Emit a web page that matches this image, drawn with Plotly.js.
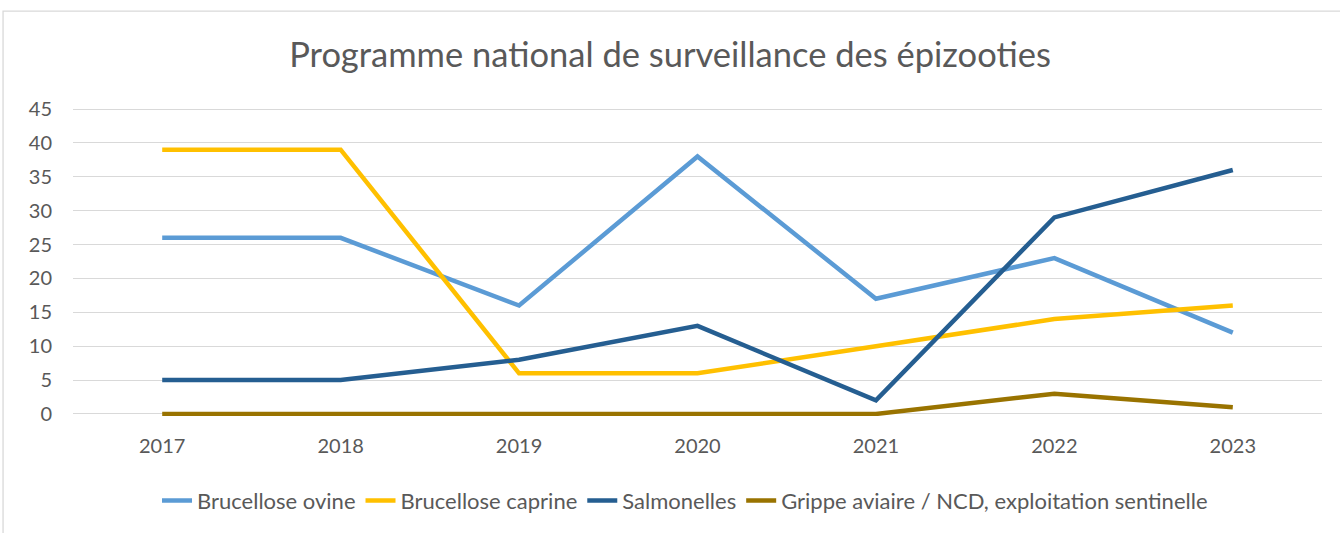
<!DOCTYPE html>
<html>
<head>
<meta charset="utf-8">
<script src="https://cdn.plot.ly/plotly-3.0.1.min.js"></script>
<style>
  body { margin: 0; background: #fff; }
  #chart { width: 1340px; height: 533px; }
</style>
</head>
<body>
<div id="chart"></div>
<script>
// years on the x axis
var years = ["2017", "2018", "2019", "2020", "2021", "2022", "2023"];

// series values
var brucelloseOvine = [26, 26, 16, 38, 17, 23, 12];
var brucelloseCaprine = [39, 39, 6, 6, 10, 14, 16];
var salmonelles = [5, 5, 8, 13, 2, 29, 36];
var grippeAviaire = [0, 0, 0, 0, 0, 3, 1];

var seriesNames = [
  "Brucellose ovine",
  "Brucellose caprine",
  "Salmonelles",
  "Grippe aviaire / NCD, exploitation sentinelle"
];
var colors = ["#5B9BD5", "#FFC000", "#255E91", "#997300"];
var allSeries = [brucelloseOvine, brucelloseCaprine, salmonelles, grippeAviaire];

var data = allSeries.map(function (vals, i) {
  return {
    x: years,
    y: vals,
    type: "scatter",
    mode: "lines",
    name: seriesNames[i],
    line: { color: colors[i], width: 4.5 }
  };
});

// small pad below 0 so the flat line at zero is not cut in half
var layout = {
  width: 1340,
  height: 533,
  margin: { l: 73, r: 18, t: 107, b: 116 },
  paper_bgcolor: "#fff",
  plot_bgcolor: "#fff",
  font: { family: "Lato, 'Open Sans', sans-serif", color: "#595959", size: 20 },
  title: {
    text: "Programme national de surveillance des épizooties",
    font: { size: 34.5, color: "#595959" },
    x: 0.5,
    xanchor: "center",
    y: 0.897,
    yanchor: "middle"
  },
  xaxis: {
    type: "category",
    range: [-0.5, 6.5],
    showgrid: false,
    zeroline: false,
    showline: false,
    ticks: "",
    ticklabelstandoff: 16
  },
  yaxis: {
    range: [-0.3, 45.3],
    tickvals: [0, 5, 10, 15, 20, 25, 30, 35, 40, 45],
    showgrid: true,
    gridcolor: "#d9d9d9",
    gridwidth: 1.3,
    zeroline: false,
    showline: false,
    ticks: "",
    ticklabelstandoff: 20
  },
  showlegend: true,
  legend: {
    orientation: "h",
    x: 0.49,
    xanchor: "center",
    y: -0.27,
    yanchor: "middle",
    font: { size: 22 },
    traceorder: "normal"
  },
  shapes: [{
    type: "rect",
    xref: "paper",
    yref: "paper",
    x0: -0.056,
    x1: 1.1,
    y0: -0.6,
    y1: 1.31,
    line: { color: "#d9d9d9", width: 1.3 },
    layer: "below"
  }]
};

Plotly.newPlot("chart", data, layout, { displayModeBar: false });
</script>
</body>
</html>
